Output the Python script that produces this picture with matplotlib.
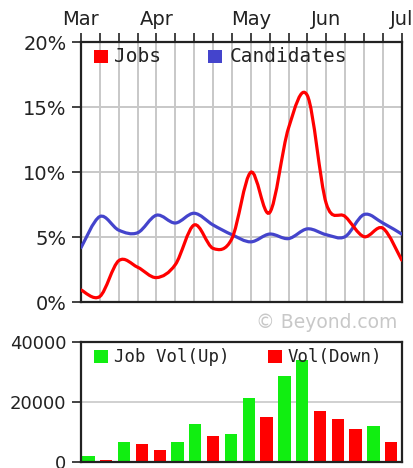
import numpy as np
import matplotlib
matplotlib.use("Agg")
import matplotlib.pyplot as plt
from matplotlib.path import Path
from matplotlib.patches import PathPatch, Rectangle

# weekly points, Mar -> Jul
weeks = list(range(18))
month_pos = [0, 4, 9, 13, 17]
month_names = ["Mar", "Apr", "May", "Jun", "Jul"]

jobs_pct = [0.95, 0.45, 3.2, 2.7, 1.9, 2.9, 5.95, 4.15, 4.9, 10.0,
            6.9, 13.4, 15.9, 7.6, 6.6, 5.05, 5.7, 3.25]
cand_pct = [4.2, 6.6, 5.55, 5.35, 6.7, 6.1, 6.85, 5.95, 5.2, 4.65,
            5.25, 4.9, 5.65, 5.2, 5.05, 6.75, 6.1, 5.25]

job_vol = [2200, 900, 6800, 6200, 4200, 6800, 12900, 8900, 9600, 21600,
           15000, 28900, 34200, 17000, 14300, 11000, 12200, 6900]

RED = "#ff0000"
BLUE = "#4444cc"
GREEN = "#11ee11"
GRID = "#c8c8c8"


def smooth_path(x, y):
    # catmull-rom through the points, drawn as cubic bezier segments
    x = np.asarray(x, float)
    y = np.asarray(y, float)
    pts = np.column_stack([x, y])
    ext = np.vstack([pts[0], pts, pts[-1]])
    verts = [pts[0]]
    codes = [Path.MOVETO]
    for i in range(len(pts) - 1):
        p0, p1, p2, p3 = ext[i], ext[i + 1], ext[i + 2], ext[i + 3]
        verts += [p1 + (p2 - p0) / 6, p2 - (p3 - p1) / 6, p2]
        codes += [Path.CURVE4] * 3
    return Path(verts, codes)


W, H = 414, 468
fig = plt.figure(figsize=(W / 100, H / 100), dpi=100)
fig.patch.set_facecolor("white")

# ---- top chart ----
ax = fig.add_axes([81 / W, 1 - 302.3 / H, 320.7 / W, 260 / H])
ax.set_xlim(0, 17)
ax.set_ylim(0, 20)
ax.set_xticks(weeks)
ax.set_xticklabels([month_names[month_pos.index(w)] if w in month_pos else "" for w in weeks])
ax.xaxis.tick_top()
ax.set_yticks([0, 5, 10, 15, 20])
ax.set_yticklabels(["0%", "5%", "10%", "15%", "20%"])
ax.tick_params(axis="x", which="both", direction="out", length=6.5, width=1.2,
               pad=3, labelsize=14, colors="#222222", top=True, bottom=False)
ax.tick_params(axis="y", direction="out", length=6.5, width=1.2, pad=4,
               labelsize=14, colors="#222222")
ax.grid(True, color=GRID, linewidth=1.4, zorder=0)
ax.set_axisbelow(True)
for s in ax.spines.values():
    s.set_linewidth(1.6)
    s.set_color("#222222")

ax.add_patch(PathPatch(smooth_path(weeks, cand_pct), fill=False, edgecolor=BLUE,
                       linewidth=2.3, zorder=3, capstyle="round"))
ax.add_patch(PathPatch(smooth_path(weeks, jobs_pct), fill=False, edgecolor=RED,
                       linewidth=2.3, zorder=4, capstyle="round"))

tw, th = 320.7, 260
ax.add_patch(Rectangle((13 / tw, 1 - 21 / th), 14 / tw, 13 / th, transform=ax.transAxes,
                       facecolor=RED, edgecolor="none", zorder=5))
ax.text(33 / tw, 1 - 14.5 / th, "Jobs", transform=ax.transAxes, va="center", ha="left",
        family="DejaVu Sans Mono", fontsize=14, color="#222222", zorder=5)
ax.add_patch(Rectangle((127 / tw, 1 - 21 / th), 14 / tw, 13 / th, transform=ax.transAxes,
                       facecolor=BLUE, edgecolor="none", zorder=5))
ax.text(149 / tw, 1 - 14.5 / th, "Candidates", transform=ax.transAxes, va="center",
        ha="left", family="DejaVu Sans Mono", fontsize=14, color="#222222", zorder=5)

fig.text(397 / W, 1 - 328 / H, "\u00a9 Beyond.com", ha="right", va="baseline",
         fontsize=13.5, color="#c8c8c8")

# ---- bottom chart ----
bx = fig.add_axes([81 / W, 1 - 462.3 / H, 320.7 / W, 120 / H])
bx.set_xlim(0, 18)
bx.set_ylim(0, 40000)
bar_colors = [GREEN if i == 0 or job_vol[i] >= job_vol[i - 1] else RED
              for i in range(len(job_vol))]
bx.bar([w + 0.07 for w in weeks], job_vol, width=0.69, align="edge",
       color=bar_colors, zorder=2)
bx.set_xticks([])
bx.set_yticks([0, 20000, 40000])
bx.set_yticklabels(["0", "20000", "40000"])
bx.tick_params(axis="y", direction="out", length=6.5, width=1.2, pad=4,
               labelsize=13, colors="#222222")
bx.axhline(20000, color=GRID, linewidth=1.2, zorder=1)
for s in bx.spines.values():
    s.set_linewidth(1.6)
    s.set_color("#222222")

bw, bh = 320.7, 120
bx.add_patch(Rectangle((13 / bw, 1 - 21 / bh), 14 / bw, 13 / bh, transform=bx.transAxes,
                       facecolor=GREEN, edgecolor="none", zorder=5))
bx.text(33 / bw, 1 - 14.5 / bh, "Job Vol(Up)", transform=bx.transAxes, va="center",
        ha="left", family="DejaVu Sans Mono", fontsize=12.5, color="#222222", zorder=5)
bx.add_patch(Rectangle((187 / bw, 1 - 21 / bh), 14 / bw, 13 / bh, transform=bx.transAxes,
                       facecolor=RED, edgecolor="none", zorder=5))
bx.text(207 / bw, 1 - 14.5 / bh, "Vol(Down)", transform=bx.transAxes, va="center",
        ha="left", family="DejaVu Sans Mono", fontsize=12.5, color="#222222", zorder=5)

fig.savefig("out.png", dpi=100)
